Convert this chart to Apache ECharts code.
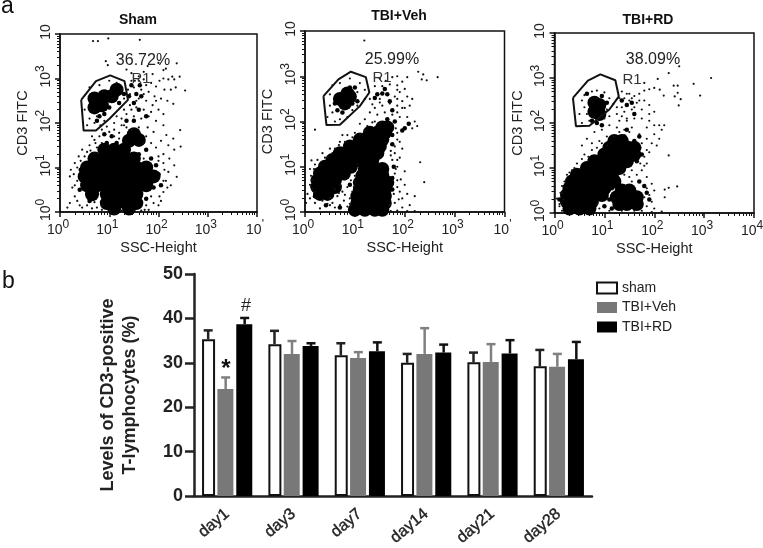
<!DOCTYPE html>
<html><head><meta charset="utf-8">
<style>html,body{margin:0;padding:0;background:#fff}#c{width:763px;height:548px;filter:blur(0.35px)}</style>
<script src="https://cdn.jsdelivr.net/npm/echarts@6/dist/echarts.min.js"></script>
</head><body><div id="c"></div>
<script>
// ---- bar chart values (percent)
const days = ['day1','day3','day7','day14','day21','day28'];
const shamMean = [35.3,34.2,31.7,30.0,30.1,29.2];
const shamTop  = [37.3,37.2,34.4,32.0,32.3,32.9];
const vehMean  = [24.1,32.0,31.1,32.0,30.2,29.1];
const vehTop   = [26.7,34.9,32.4,37.8,34.2,32.0];
const rdMean   = [38.7,33.8,32.6,32.3,32.1,30.8];
const rdTop    = [40.1,34.4,34.6,34.1,35.1,34.7];
const yTicks = [0,10,20,30,40,50];

// ---- flow cytometry: every pair is [log10 SSC, log10 FITC]
// "Core" = solid black areas, "Mid" = thicker patches, "Dots" = single events
const shamCore = [[.9,1.4],[1.1,1.4],[1.3,1.4],[.7,1.2],[.9,1.2],[1.1,1.2],[1.3,1.2],[1.5,1.2],
[.55,1],[.75,1],[.95,1],[1.15,1],[1.35,1],[1.55,1],[1.75,1],[.5,.8],[.7,.8],[.9,.8],[1.1,.8],[1.3,.8],[1.5,.8],[1.7,.8],[1.9,.8],
[.55,.6],[.75,.6],[.95,.6],[1.15,.6],[1.35,.6],[1.55,.6],[1.75,.6],[.65,.4],[.95,.4],[1.15,.4],[1.35,.4],[1.55,.4],
[.95,.2],[1.15,.2],[1.35,.2],[1.55,.2],[1.1,.08],[1.4,.08],[1.5,1.75],[1.4,1.6],[1.6,1.62],
[.7,2.55],[.85,2.4],[.7,2.35],[.9,2.6],[1.15,2.75],[1.05,2.6]];
const shamMid = [[.8,2.15],[.9,2.2],[.75,2.05],[1,2.35],[1.2,2.45],[1.3,2.65],[1.4,2.6],[1.55,2.65],[1.65,2.6],[1.5,2.45],[1.62,2.85],[1.45,2.85],[1.6,2.3],[1.75,2.15],[1.5,2.05],[1.35,2.05],[1.9,.55],[2,.85],[1.95,1.05],[1.85,1.2],[1.6,1.3],[1.75,1.4],[.9,1.75],[1.05,1.7],[.95,1.55],[1.15,1.55],[2.05,.6],[.4,.5],[.42,.95],[.6,.25],[1.75,.3]];
const shamDots = [[.67,3.84],[.77,3.84],[.98,3.9],[1.62,3.87],[.93,3.39],[.97,3.3],[1.35,3.2],[1.7,3.15],[1.78,3.28],[2,3.35],[2.1,3.19],[2.15,3.22],[2.37,3.34],[2.28,3.04],[2.32,2.98],[2.43,3.04],[2.2,2.98],[2.1,3],[2.02,2.95],[1.88,3.1],[1.6,3.05],[1.45,3.12],[1.52,2.95],[1.7,2.98],[1.85,2.9],[1.95,2.82],[2.12,2.75],[2.25,2.75],[2.35,2.8],[2.54,2.73],[2.3,2.43],[2.18,2.5],[2.05,2.55],[1.92,2.6],[1.8,2.7],[1.65,2.75],[1.5,2.8],[1.42,2.65],[1.6,2.55],[1.75,2.5],[1.88,2.4],[2,2.3],[2.1,2.2],[1.7,2.3],[1.55,2.35],[1.42,2.4],[1.35,2.2],[1.5,2.15],[1.65,2.1],[1.8,2.15],[1.95,2.05],[2.1,1.95],[2.44,1.84],[2.16,1.73],[2.3,1.65],[2.45,1.47],[2.32,1.4],[2.2,1.5],[2.05,1.6],[1.9,1.8],[1.78,1.9],[1.95,1.45],[2.1,1.3],[2.22,1.2],[2.37,.79],[2.32,1.05],[2.2,.9],[2.15,.7],[2.25,.6],[2.02,.35],[1.9,.2],[2.1,.45],[1.75,.15],[1.8,.05],
[.2,.2],[.15,.1],[.3,.35],[.25,.55],[.2,.8],[.22,.95],[.3,1.1],[.38,1.25],[.35,.7],[.4,.15],[.55,.15],[.65,.08],[.7,.22],[.45,1.4],[.55,1.35],[.6,1.5],[.72,1.55],[.8,1.7],[.65,1.7],[.85,1.85],[.95,1.92],[1.1,1.85],[1.2,1.78],[1.25,1.95],[1.1,2],[1.35,1.9],[1.25,2.1],[1.15,2.15],[.9,2.05],[.82,1.95],[.6,2.1],[.7,2],[.75,2.15],[.55,1.95],[.6,2.8],[.8,2.85],[1,2.95],[1.15,2.9],[1.25,2.75],[1.3,2.55],[.5,2.3],[1,.02],[1.25,.03],[1.5,.03],[1.65,.03],[.85,.05],
[.3,.6],[.35,.25],[.45,.1],[.28,.85],[.35,1],[.42,1.15],[.5,1.25],[.62,1.38],[.75,1.45],[.78,1.32],[.7,1.62],[.85,1.55],[1,1.8],[1.2,1.65],[1.1,1.7],[1.7,1.55],[1.85,1.55],[1.7,1.2],[2,1.25],[2,1.15],[2.1,1.1],[2.12,.95],[2.1,.7],[2.18,.55],[2.05,.25],[2,.15],[1.85,.35],[1.72,.05],[.75,.1],[.85,.15],[1.3,1.95],[1.45,1.85],[1.75,1.7],[1.6,1.9],[1.45,2.3],[1.85,2.25],[1.95,2.5],[1.7,2.65],[1.55,2.5],[1.38,2.75],[1.45,2.95],[1.6,2.95],[1.75,2.85],[1.3,2.3]];
const shamGate = [[.43,2.52],[.73,2.94],[1.02,3.07],[1.31,2.94],[1.38,2.52],[1.01,2.1],[.73,1.83],[.48,1.83],[.43,2.52]];

const vehCore = [[.3,.4],[.45,.4],[.25,.55],[.4,.55],[.6,.55],[.25,.7],[.42,.7],[.6,.7],[.3,.85],[.45,.85],[.62,.85],[.78,.85],[.4,1],[.58,1],[.75,1],[.92,1],
[.55,1.15],[.72,1.15],[.88,1.15],[1.05,1.15],[1.2,1.15],[1.35,1.15],[.7,1.3],[.85,1.3],[1,1.3],[1.15,1.3],[1.3,1.3],[1.45,1.3],[.9,1.45],[1.05,1.45],[1.2,1.45],[1.35,1.45],[1.5,1.45],
[1.1,1.6],[1.25,1.6],[1.4,1.6],[1.55,1.6],[1.3,1.75],[1.45,1.75],[1.6,1.75],[1.55,1.87],[1.65,1.87],
[1.2,.95],[1.4,.95],[1.55,.95],[1.15,.8],[1.35,.8],[1.55,.8],[1.1,.65],[1.3,.65],[1.5,.65],[1.65,.65],[1.1,.5],[1.25,.5],[1.45,.5],[1.6,.5],[1.05,.35],[1.25,.35],[1.4,.35],[1.6,.35],[1.05,.2],[1.2,.2],[1.4,.2],[1.6,.2],[1,.05],[1.2,.05],[1.4,.05],[1.55,.05],
[.7,2.5],[.9,2.55],[.8,2.4],[.85,2.62]];
const vehMid = [[1.45,2.6],[1.55,2.62],[1.65,2.6],[1.6,2.72],[1.4,2.52],[1.7,2.45],[1.75,2.25],[1.65,2.05],[1.8,2],[2,1.85],[2.08,1.95],[1.95,1.8],[1.6,1.95],[1.75,1.7],[1.75,1.5],[1.05,2.45],[.95,2.4],[.75,2.2],[.65,2.25],[.6,2.4],[1,2.75],[.9,2.75],[.7,.1],[.2,.35],[.18,.6],[.42,.15],[.9,.6],[.98,.15],[1.75,.5],[1.75,.75],[1.78,1]];
const vehDots = [[1.19,3.79],[2.27,3.1],[2.37,3.04],[2.34,2.93],[2.44,2.91],[2.66,2.98],[.2,1.82],[2.31,1.1],[2.39,.66],[.13,1.14],[1.5,2.95],[1.62,2.9],[1.75,2.98],[1.85,3],[2.05,2.98],[1.95,2.88],[1.85,2.8],[1.7,2.82],[1.55,2.78],[1.4,2.78],[2,2.72],[1.9,2.65],[2.05,2.55],[1.95,2.45],[1.85,2.5],[2.15,2.5],[2.1,2.35],[2,2.3],[1.85,2.35],[1.7,2.4],[1.55,2.35],[1.4,2.3],[1.3,2.2],[1.45,2.15],[1.6,2.2],[1.75,2.15],[1.9,2.1],[2.05,2.1],[2.2,2],[2.15,1.85],[2.25,1.9],[1.2,2.05],[1.1,1.95],[1.35,1.98],[1.52,1.98],[1,1.75],[.85,1.7],[.7,1.55],[1.2,1.8],
[.5,2.6],[.55,2.8],[.7,2.85],[.9,2.95],[1.1,2.85],[1.2,2.7],[1.05,2.65],[1.2,2.5],[1.05,2.35],[.95,2.25],[.85,2.1],[.7,2.05],[.6,2],[.55,2.2],[.5,2.35],[.45,2.1],
[1.85,1.75],[1.9,1.55],[1.95,1.4],[1.8,1.3],[1.9,1.2],[1.75,1.15],[1.85,1],[2,.9],[1.8,.85],[1.92,.72],[1.85,.55],[2,.6],[1.9,.45],[2.05,.4],[1.95,.3],[2.2,.35],[2.1,.15],[1.8,.2],[1.95,.1],[1.85,.03],[2.05,.02],[2.2,.02],
[.1,.6],[.05,.4],[.02,.2],[.15,.5],[.12,.8],[.18,.95],[.25,1.15],[.35,1.3],[.4,1.2],[.5,1.4],[.6,1.4],[.75,1.7],[.1,.3],[.2,.2],[.3,.08],[.45,.18],[.5,.3],
[.6,.5],[.7,.6],[.75,.45],[.85,.55],[.65,.35],[.78,.25],[.9,.3],[.7,.15],[.85,.12],[.6,.1],[.95,.45],[.8,.72],[.92,.7],[1,.8],[.95,.9],[1.05,1.05],
[.15,.7],[.12,.55],[.2,.45],[.1,.95],[.3,1.05],[.2,1.05],[.45,1.2],[.55,1.3],[.68,1.48],[.8,1.55],[.95,1.65],[1.1,1.72],[1.25,1.9],[1.4,2],[1.82,1.85],[1.85,1.6],[1.72,1.35],[1.8,1.45],[1.85,1.15],[1.72,1.25],[1.82,.95],[1.85,.7],[1.78,.4],[1.7,.15],[1.72,.02],[1.88,.28],[.55,.2],[.35,.25],[.5,.15],[.68,.42],[.8,.38],[.9,.18],[.98,.55],[1,.68],[1.85,2.2],[1.95,2.3],[1.5,2.42],[1.8,2.55],[1.85,2.7],[1.5,2.5],[1.3,2.5],[1.35,2.38]];
const vehGate = [[.37,2.56],[.67,2.93],[.92,3.1],[1.22,2.98],[1.29,2.64],[1.1,2.34],[.7,1.93],[.43,1.92],[.37,2.56]];

const rdCore = [[.3,.1],[.5,.1],[.7,.1],[.25,.25],[.42,.25],[.6,.25],[.75,.25],[.25,.4],[.42,.4],[.6,.4],[.78,.4],[.95,.4],[.3,.55],[.48,.55],[.65,.55],[.82,.55],[1,.55],[.35,.7],[.52,.7],[.7,.7],[.88,.7],[1.05,.7],[1.2,.7],
[.45,.85],[.62,.85],[.8,.85],[.98,.85],[1.15,.85],[.65,1],[.82,1],[1,1],[1.15,1],[1.3,1],[.8,1.15],[.97,1.15],[1.15,1.15],[1.3,1.15],[1.45,1.15],[1,1.3],[1.15,1.3],[1.3,1.3],[1.45,1.3],[1.6,1.3],[1.1,1.45],[1.25,1.45],[1.45,1.45],[1.6,1.45],[1.2,1.6],[1.35,1.6],
[1.35,.5],[1.5,.5],[1.25,.35],[1.45,.35],[1.65,.35],[1.3,.2],[1.45,.2],[1.65,.2],
[.8,2.45],[.9,2.4],[.8,2.25],[.9,2.2],[.85,2.35]];
const rdMid = [[1.4,1.7],[1.5,1.55],[1.6,1.6],[1.7,1.45],[1.75,1.3],[1.65,1.15],[1.7,1.7],[1.45,1.85],[1.55,2.45],[1.6,2.2],[1.35,2.5],[1.45,2.4],[.65,2.65],[.95,2.6],[1.05,2.45],[.75,2.05],[.95,1.95],[.85,2],[1.85,.45],[1.8,.6],[1.7,.7],[1.9,.3],[.1,.3],[.15,.3],[.7,.05],[1,.15],[1.15,.1],[1.1,.3],[1.15,.55]];
const rdDots = [[3.14,3],[2.79,2.87],[2.92,2.61],[2.29,3.11],[2.5,3.26],[2.07,2.98],[2.39,2.83],[2.47,2.83],[2.47,2.67],[2.53,2.53],[2.41,2.59],[2.49,2.39],[2.29,1.28],[2.46,.59],[2.29,.56],[2.21,.52],[2.21,.35],[1.8,2.89],[2,2.78],[2.11,2.74],[2.19,2.61],
[1.9,2.75],[1.8,2.72],[1.7,2.65],[1.6,2.6],[1.45,2.65],[1.35,2.7],[1.3,2.55],[1.5,2.5],[1.65,2.45],[1.8,2.5],[1.9,2.4],[1.75,2.3],[1.9,2.2],[2,2.25],[1.55,2.3],[1.4,2.25],[1.25,2.2],[1.3,2.05],[1.45,2.1],[1.6,2.1],[1.75,2.1],[1.9,2.05],[1.85,1.9],[2,1.95],[2.1,1.95],[2.15,1.85],[2.2,1.95],[2,1.75],[2.1,1.65],[2.05,1.5],[1.95,1.55],[1.85,1.65],[1.7,1.75],[1.55,1.9],[1.4,1.85],[1.25,1.9],[1.1,1.95],[.95,1.85],[.8,1.8],[.65,1.65],[.55,1.5],[.75,1.55],[.9,1.6],[1.05,1.7],[1.2,1.7],[.6,1.3],[.45,1.1],[.35,.95],[.25,.85],[.15,.6],[.12,.45],[.05,.32],[.1,.15],[.15,.05],[1.9,1.35],[1.8,1.25],[1.85,1.1],[1.75,.95],[1.85,.8],[1.95,.65],[2,.5],[1.9,.4],[1.95,.25],[1.85,.15],[2,.1],[2.15,.03],[1.95,.02],
[.5,2.2],[.55,2],[.7,2.05],[.65,2.2],[.6,2.35],[.55,2.5],[.6,2.62],[.75,2.7],[.85,2.72],[1,2.68],[1.1,2.55],[1.18,2.42],[1.05,2.3],[1.1,2.15],[1,2.1],
[.1,.2],[.18,.3],[.15,.45],[.2,.7],[.3,.9],[.4,1],[.55,1.2],[.68,1.25],[.75,1.4],[.95,1.55],[1.05,1.5],[.85,1.45],[1.3,1.8],[1.5,1.8],[1.75,1.55],[1.85,1.4],[1.8,1.05],[1.72,1.1],[1.55,.95],[1.65,.85],[1.4,.85],[1.55,.7],[1.5,.8],[1.8,.35],[1.85,.55],[1.75,.05],[1.6,.05],[1.35,.05],[1.1,.05],[.9,.1],[.85,.2],[1.45,2.05],[1.35,2.15],[1.6,2.35],[1.7,2.5],[1.4,2.55],[1.55,2.55],[1.5,2.65],[1.25,2.35],[1.35,2.35]];
const rdGate = [[.37,2.56],[.67,2.94],[.92,3.08],[1.22,2.95],[1.29,2.59],[1.1,2.3],[.7,1.94],[.43,1.93],[.37,2.56]];

const xExp = [['0','1','2','3',"'"],['0','1','2','3',"'"],['0','1','2','3','4']];
const yExp = ['0','1','2','3',''];
const minorValues = [2,3,4,5,6,7,8,9,20,30,40,50,60,70,80,90,200,300,400,500,600,700,800,900,2000,3000,4000,5000,6000,7000,8000,9000];

// ---- layout
const FONT = '"Liberation Sans", Arial, sans-serif';
const panels = [
  {core:shamCore, mid:shamMid, dots:shamDots, gate:shamGate, title:'Sham', pct:'36.72%',
   box:{left:60,top:34,width:197,height:178}, titleX:138,titleY:20, pctX:143,pctY:61, r1X:141,r1Y:79, nameGapY:30},
  {core:vehCore, mid:vehMid, dots:vehDots, gate:vehGate, title:'TBI+Veh', pct:'25.99%',
   box:{left:305,top:31,width:199.5,height:181}, titleX:399,titleY:16, pctX:392,pctY:60, r1X:382,r1Y:78, nameGapY:30},
  {core:rdCore, mid:rdMid, dots:rdDots, gate:rdGate, title:'TBI+RD', pct:'38.09%',
   box:{left:554.5,top:33,width:199.5,height:180}, titleX:648,titleY:20, pctX:653,pctY:60, r1X:632,r1Y:80, nameGapY:29}
];
const toLinear = pts => pts.map(p => [Math.pow(10,p[0]), Math.pow(10,p[1])]);

const grids=[], xAxes=[], yAxes=[], series=[], graphics=[];
const labelRich = {b:{fontFamily:FONT,fontSize:14,color:'#222',lineHeight:18,verticalAlign:'bottom'},
                   s:{fontFamily:FONT,fontSize:12,color:'#222',lineHeight:18,padding:[0,0,6,0]}};
const lineAxis = {show:true,onZero:false,lineStyle:{color:'#111',width:1.5}};

panels.forEach((p,i)=>{
  grids.push(Object.assign({show:true,borderColor:'#111',borderWidth:1.5,backgroundColor:'#fff',outerBoundsMode:'none'},p.box));
  xAxes.push({type:'log',logBase:10,min:1,max:10000,gridIndex:i,position:'bottom',
    name:'SSC-Height',nameLocation:'middle',nameGap:28,nameTextStyle:{fontFamily:FONT,fontSize:14.5,color:'#222'},
    axisLine:lineAxis,axisTick:{show:true,length:5,lineStyle:{color:'#111',width:1.5}},splitLine:{show:false},
    axisLabel:{margin:7,padding:[0,4,0,0],rich:labelRich,formatter:(v,idx)=>'{b|10}{s|'+xExp[i][idx]+'}'}});
  yAxes.push({type:'log',logBase:10,min:1,max:10000,gridIndex:i,position:'left',
    name:'CD3 FITC',nameLocation:'middle',nameGap:p.nameGapY,nameRotate:90,nameTextStyle:{fontFamily:FONT,fontSize:14.5,color:'#222'},
    axisLine:lineAxis,axisTick:{show:true,length:5,lineStyle:{color:'#111',width:1.5}},splitLine:{show:false},
    axisLabel:{margin:7,rotate:90,padding:[0,0,0,4],rich:labelRich,formatter:(v,idx)=>'{b|10}{s|'+yExp[idx]+'}'}});
  const common={type:'scatter',xAxisIndex:i,yAxisIndex:i,silent:true,animation:false};
  series.push(Object.assign({},common,{data:toLinear(p.core),symbolSize:14,itemStyle:{color:'#000',opacity:1}}));
  series.push(Object.assign({},common,{data:toLinear(p.mid),symbolSize:4.5,itemStyle:{color:'#000',opacity:1}}));
  series.push(Object.assign({},common,{data:toLinear(p.dots),symbolSize:2.2,itemStyle:{color:'#111',opacity:1}}));
  series.push({type:'line',xAxisIndex:i,yAxisIndex:i,data:toLinear(p.gate),showSymbol:false,symbol:'none',silent:true,animation:false,z:5,
    lineStyle:{color:'#111',width:2}});
  graphics.push({type:'text',x:p.titleX,y:p.titleY,z:10,style:{text:p.title,font:'bold 14px '+FONT,fill:'#111',textAlign:'center',textVerticalAlign:'middle'}});
  graphics.push({type:'text',x:p.pctX,y:p.pctY,z:10,style:{text:p.pct,font:'16px '+FONT,fill:'#222',textAlign:'center',textVerticalAlign:'middle'}});
  graphics.push({type:'text',x:p.r1X,y:p.r1Y,z:10,style:{text:'R1',font:'15px '+FONT,fill:'#333',textAlign:'center',textVerticalAlign:'middle'}});
});

// bar grid
grids.push({left:194,top:274,width:398,height:222,outerBoundsMode:'none'});
const barGrid=3;
xAxes.push({type:'category',data:days,gridIndex:barGrid,position:'bottom',
  axisLine:{lineStyle:{color:'#222',width:2.5}},axisTick:{alignWithLabel:true,length:5,lineStyle:{color:'#222',width:2.5}},
  axisLabel:{rotate:40,interval:0,margin:16,fontFamily:FONT,fontSize:16,fontWeight:'normal',color:'#222',textBorderColor:'#222',textBorderWidth:0.4}});
yAxes.push({type:'value',min:0,max:50,interval:10,gridIndex:barGrid,position:'left',
  name:'Levels of CD3-positive\nT-lymphocytes (%)',nameLocation:'middle',nameGap:53,nameRotate:90,
  nameTextStyle:{fontFamily:FONT,fontSize:18,fontWeight:'bold',color:'#222',lineHeight:22,padding:[0,20,0,0]},
  axisLine:{show:true,lineStyle:{color:'#222',width:2.5}},axisTick:{show:true,length:9,lineStyle:{color:'#222',width:2.5}},splitLine:{show:false},
  axisLabel:{margin:11,fontFamily:FONT,fontSize:18,fontWeight:'bold',color:'#222',formatter:v=>yTicks.includes(v)?String(v):''}});

// minor log ticks
panels.forEach((p,i)=>{
  xAxes.push({type:'log',logBase:10,min:1,max:10000,gridIndex:i,position:'bottom',axisLine:{show:false},axisLabel:{show:false},splitLine:{show:false},
    axisTick:{show:true,length:3,customValues:minorValues,lineStyle:{color:'#111',width:1}}});
  yAxes.push({type:'log',logBase:10,min:1,max:10000,gridIndex:i,position:'left',axisLine:{show:false},axisLabel:{show:false},splitLine:{show:false},
    axisTick:{show:true,length:3,customValues:minorValues,lineStyle:{color:'#111',width:1}}});
});

const barSeries=[
  {name:'sham',data:shamMean,top:shamTop,width:13,off:-19,fill:'#fff',border:'#111',bw:2,err:'#222'},
  {name:'TBI+Veh',data:vehMean,top:vehTop,width:16,off:-1.5,fill:'#787878',border:'#787878',bw:0,err:'#808080'},
  {name:'TBI+RD',data:rdMean,top:rdTop,width:16,off:17.5,fill:'#000',border:'#000',bw:0,err:'#111'}
];
barSeries.forEach(b=>{
  series.push({type:'bar',name:b.name,data:b.data,xAxisIndex:barGrid,yAxisIndex:barGrid,barWidth:b.width,barGap:'18%',animation:false,silent:true,
    itemStyle:{color:b.fill,borderColor:b.border,borderWidth:b.bw}});
});
barSeries.forEach(b=>{
  series.push({type:'custom',xAxisIndex:barGrid,yAxisIndex:barGrid,animation:false,silent:true,z:3,
    data:b.data.map((m,k)=>[k,m,b.top[k]]),
    encode:{x:0,y:[1,2]},
    renderItem:(params,api)=>{
      const a=api.coord([api.value(0),api.value(1)]), t=api.coord([api.value(0),api.value(2)]);
      const x=a[0]+b.off, st={stroke:b.err,lineWidth:2.5};
      return {type:'group',children:[
        {type:'line',shape:{x1:x,y1:a[1],x2:x,y2:t[1]},style:st},
        {type:'line',shape:{x1:x-4.5,y1:t[1],x2:x+4.5,y2:t[1]},style:st}]};
    }});
});

graphics.push({type:'text',x:1,y:7,z:10,style:{text:'a',font:'23px '+FONT,fill:'#111',textAlign:'left',textVerticalAlign:'middle'}});
graphics.push({type:'text',x:2,y:282,z:10,style:{text:'b',font:'23px '+FONT,fill:'#111',textAlign:'left',textVerticalAlign:'middle'}});
graphics.push({type:'text',x:226,y:369,z:10,style:{text:'*',font:'bold 24px '+FONT,fill:'#111',textAlign:'center',textVerticalAlign:'middle'}});
graphics.push({type:'text',x:246,y:306,z:10,style:{text:'#',font:'18px '+FONT,fill:'#222',textAlign:'center',textVerticalAlign:'middle'}});

const chart=echarts.init(document.getElementById('c'),null,{renderer:'canvas'});
chart.setOption({
  animation:false,backgroundColor:'#fff',
  grid:grids,xAxis:xAxes,yAxis:yAxes,series:series,graphic:graphics,
  legend:{data:['sham','TBI+Veh','TBI+RD'],orient:'vertical',left:591,top:276,itemWidth:20,itemHeight:11,itemGap:5.5,icon:'rect',
    selectedMode:false,textStyle:{fontFamily:FONT,fontSize:14,color:'#222'}}
});
</script></body></html>
